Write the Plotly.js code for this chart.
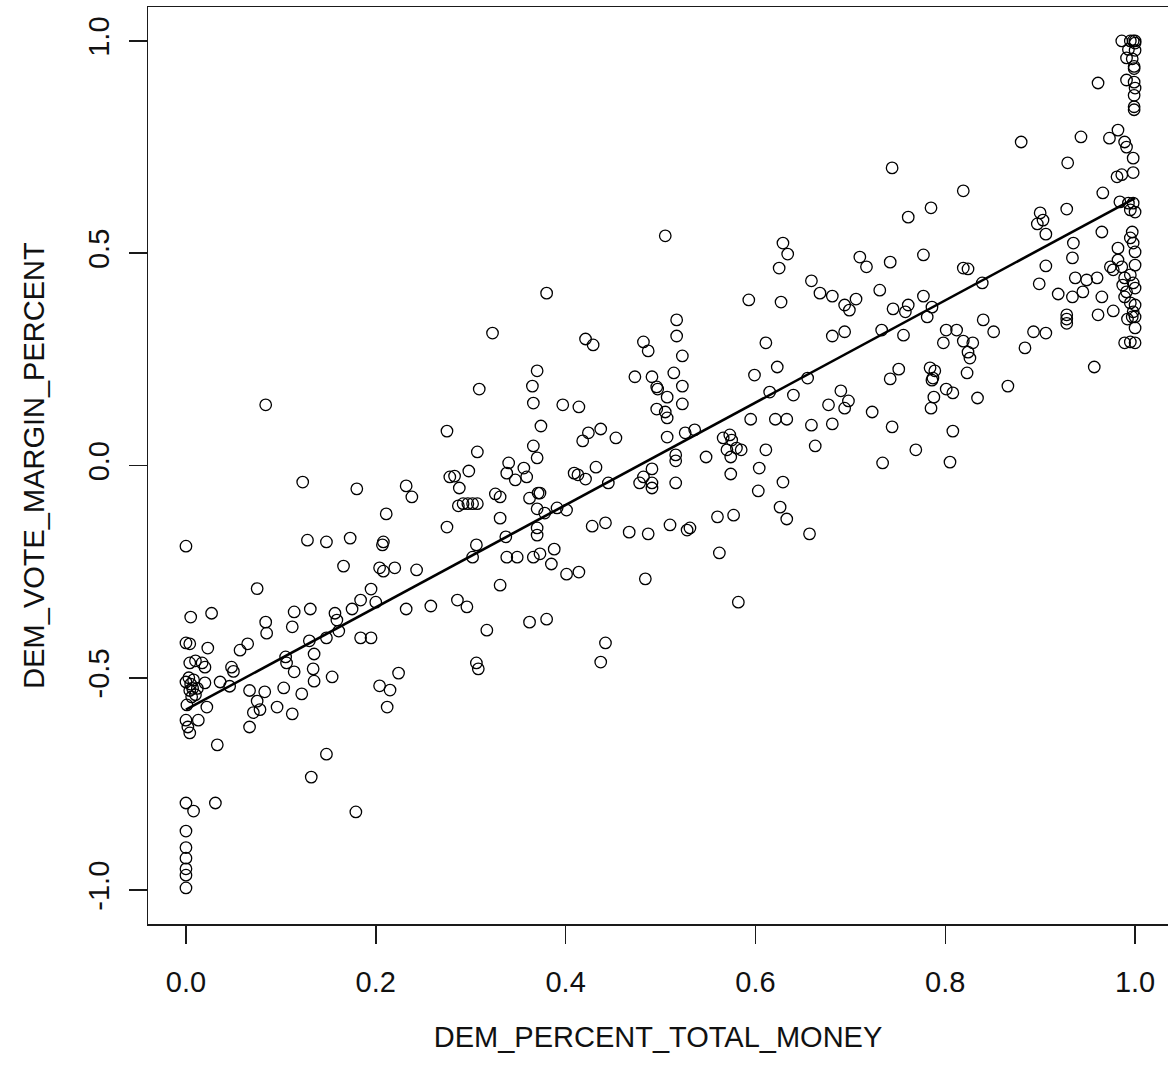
<!DOCTYPE html>
<html>
<head>
<meta charset="utf-8">
<script src="https://cdn.plot.ly/plotly-3.0.1.min.js"></script>
<style>html,body{margin:0;padding:0;background:#fff;}#chart{width:1168px;height:1076px;}</style>
</head>
<body>
<div id="chart"></div>
<script>
// DEM_PERCENT_TOTAL_MONEY values
var demPercentMoney = [
  // near zero
  0.000,0.005,0.027,0.075,0.084,0.084,0.085,0.000,0.004,0.023,0.004,0.017,0.020,0.000,0.005,0.004,0.010,0.007,0.020,0.036,
  0.046,0.048,0.050,0.057,0.065,0.001,0.022,0.000,0.013,0.002,0.004,0.033,0.067,0.083,0.075,0.078,0.071,0.067,0.000,0.008,
  0.031,0.000,0.000,0.000,0.000,0.000,0.000,
  0.003,0.008,0.012,0.006,0.010,
  // 0.1 - 0.28
  0.275,0.275,0.123,0.180,0.232,0.238,0.211,0.128,0.148,0.173,0.208,0.207,0.166,0.204,0.208,0.220,0.243,0.195,0.184,0.200,
  0.175,0.157,0.131,0.114,0.112,0.232,0.258,0.159,0.161,0.148,0.130,0.184,0.195,0.105,0.106,0.135,0.114,0.134,0.135,0.154,
  0.103,0.122,0.096,0.112,0.204,0.215,0.224,0.212,0.148,0.132,0.179,
  // 0.28 - 0.46
  0.380,0.323,0.421,0.429,0.370,0.365,0.366,0.309,0.397,0.414,
  0.374,0.437,0.424,0.418,0.453,0.307,0.366,0.370,0.340,0.356,
  0.338,0.347,0.359,0.298,0.278,0.283,0.288,0.432,0.409,0.413,
  0.421,0.445,0.326,0.331,0.362,0.371,0.373,0.287,0.292,0.297,
  0.302,0.307,0.370,0.378,0.391,0.401,0.331,0.370,0.370,0.428,
  0.442,0.337,0.306,0.302,0.338,0.349,0.366,0.373,0.388,0.385,
  0.401,0.414,0.331,0.286,0.296,0.317,0.362,0.380,0.306,0.308,
  0.442,0.437,
  // 0.46 - 0.66
  0.505,0.629,0.634,0.625,0.593,0.627,0.517,0.517,0.482,0.487,
  0.523,0.611,0.623,0.599,0.473,0.491,0.496,0.497,0.514,0.523,
  0.507,0.523,0.615,0.640,0.496,0.505,0.507,0.595,0.621,0.633,
  0.507,0.526,0.536,0.566,0.573,0.575,0.570,0.580,0.585,0.574,
  0.516,0.516,0.548,0.611,0.604,0.629,0.603,0.491,0.482,0.478,
  0.491,0.491,0.516,0.574,0.626,0.633,0.560,0.577,0.467,0.487,
  0.510,0.528,0.531,0.562,0.657,0.484,0.582,
  // 0.65 - 0.84
  0.744,0.819,0.785,0.761,0.710,0.717,0.742,0.777,0.819,0.824,
  0.659,0.668,0.681,0.731,0.706,0.694,0.699,0.777,0.745,0.761,
  0.758,0.786,0.781,0.681,0.694,0.733,0.756,0.801,0.812,0.798,
  0.819,0.829,0.824,0.826,0.655,0.742,0.751,0.784,0.789,0.786,
  0.787,0.823,0.801,0.808,0.788,0.785,0.834,0.690,0.698,0.694,
  0.677,0.723,0.659,0.681,0.744,0.808,0.663,0.769,0.734,0.805,
  // 0.84 - 0.93
  0.880,0.929,0.900,0.897,0.903,0.906,0.928,0.839,0.906,0.899,
  0.919,0.928,0.928,0.928,0.840,0.851,0.893,0.906,0.884,0.866,
  // near one, upper
  0.986,0.995,0.998,1.000,1.000,0.993,1.000,0.991,0.997,0.999,
  0.999,0.991,0.999,1.000,0.999,0.999,0.999,0.961,0.982,0.943,
  0.973,0.989,0.991,0.998,0.981,0.986,0.998,0.966,
  // near one, lower
  0.984,0.993,0.998,0.995,1.000,0.965,0.997,0.995,0.998,0.935,
  0.934,0.982,1.000,0.982,0.974,0.977,0.986,1.000,0.995,0.989,
  0.937,0.949,0.960,0.987,1.000,0.991,0.945,0.934,0.965,0.989,
  0.995,1.000,0.998,0.997,0.961,0.977,1.000,0.989,1.000,0.995,
  0.957,0.998,0.992,1.000
];

// DEM_VOTE_MARGIN_PERCENT values
var demVoteMargin = [
  -0.190,-0.357,-0.348,-0.290,0.143,-0.369,-0.395,-0.418,-0.420,-0.430,-0.465,-0.465,-0.475,-0.510,-0.515,-0.530,-0.540,-0.525,-0.512,-0.510,
  -0.520,-0.475,-0.485,-0.435,-0.420,-0.564,-0.569,-0.600,-0.600,-0.616,-0.630,-0.658,-0.530,-0.533,-0.555,-0.575,-0.582,-0.616,-0.795,-0.814,
  -0.795,-0.861,-0.900,-0.925,-0.950,-0.965,-0.995,
  -0.500,-0.505,-0.525,-0.545,-0.460,

  0.081,-0.145,-0.039,-0.055,-0.048,-0.074,-0.114,-0.176,-0.180,-0.171,-0.180,-0.187,-0.237,-0.241,-0.249,-0.241,-0.246,-0.291,-0.317,-0.322,
  -0.338,-0.348,-0.338,-0.345,-0.380,-0.338,-0.331,-0.364,-0.390,-0.406,-0.413,-0.406,-0.406,-0.451,-0.465,-0.444,-0.486,-0.479,-0.508,-0.498,
  -0.524,-0.538,-0.569,-0.585,-0.519,-0.529,-0.489,-0.569,-0.680,-0.734,-0.816,

  0.406,0.312,0.298,0.284,0.223,0.187,0.147,0.180,0.143,0.138,
  0.093,0.086,0.077,0.058,0.065,0.032,0.046,0.018,0.006,-0.006,
  -0.018,-0.034,-0.027,-0.013,-0.027,-0.025,-0.053,-0.004,-0.018,-0.022,
  -0.032,-0.041,-0.067,-0.074,-0.077,-0.065,-0.065,-0.095,-0.090,-0.090,
  -0.090,-0.090,-0.102,-0.112,-0.100,-0.105,-0.124,-0.147,-0.164,-0.143,
  -0.135,-0.168,-0.187,-0.216,-0.216,-0.216,-0.216,-0.208,-0.197,-0.232,
  -0.256,-0.251,-0.282,-0.317,-0.333,-0.388,-0.369,-0.362,-0.465,-0.479,
  -0.418,-0.463,

  0.541,0.524,0.498,0.465,0.390,0.385,0.343,0.305,0.291,0.270,
  0.258,0.289,0.232,0.213,0.209,0.209,0.185,0.180,0.218,0.187,
  0.161,0.145,0.173,0.166,0.133,0.126,0.112,0.109,0.109,0.109,
  0.067,0.077,0.084,0.065,0.072,0.060,0.037,0.041,0.037,0.020,
  0.025,0.011,0.020,0.037,-0.006,-0.039,-0.060,-0.008,-0.027,-0.041,
  -0.041,-0.053,-0.041,-0.020,-0.098,-0.126,-0.121,-0.117,-0.157,-0.161,
  -0.140,-0.152,-0.147,-0.206,-0.161,-0.267,-0.322,

  0.701,0.647,0.607,0.585,0.491,0.468,0.479,0.496,0.465,0.463,
  0.435,0.406,0.399,0.413,0.392,0.378,0.366,0.399,0.369,0.378,
  0.362,0.373,0.350,0.305,0.315,0.319,0.307,0.319,0.319,0.289,
  0.293,0.289,0.267,0.253,0.206,0.204,0.227,0.230,0.223,0.201,
  0.206,0.218,0.180,0.171,0.161,0.135,0.159,0.176,0.152,0.135,
  0.143,0.126,0.095,0.098,0.091,0.081,0.046,0.037,0.006,0.008,

  0.762,0.713,0.595,0.569,0.578,0.545,0.604,0.430,0.470,0.428,
  0.404,0.355,0.345,0.335,0.343,0.315,0.315,0.312,0.277,0.187,

  1.000,1.000,1.000,1.000,0.995,0.980,0.978,0.960,0.958,0.940,
  0.935,0.908,0.903,0.889,0.872,0.845,0.838,0.901,0.790,0.774,
  0.771,0.762,0.750,0.724,0.680,0.685,0.690,0.642,

  0.621,0.618,0.618,0.602,0.597,0.550,0.550,0.536,0.524,0.524,
  0.489,0.512,0.503,0.484,0.468,0.461,0.468,0.472,0.449,0.442,
  0.442,0.437,0.442,0.425,0.418,0.409,0.409,0.397,0.397,0.397,
  0.383,0.378,0.362,0.350,0.355,0.364,0.324,0.289,0.289,0.291,
  0.232,0.430,0.345,0.350
];

// Fitted regression line end points
var fitX = [0.0, 1.0];
var fitY = [-0.575, 0.630];

// Axis ticks
var xTickVals = [0, 0.2, 0.4, 0.6, 0.8, 1.0];
var xTickLabels = ["0.0", "0.2", "0.4", "0.6", "0.8", "1.0"];
var yTickVals = [-1, -0.5, 0, 0.5, 1];
var yTickLabels = ["-1.0", "-0.5", "0.0", "0.5", "1.0"];

var xTitle = "DEM_PERCENT_TOTAL_MONEY";
var yTitle = "DEM_VOTE_MARGIN_PERCENT";

if (demPercentMoney.length !== demVoteMargin.length) {
  console.error("length mismatch", demPercentMoney.length, demVoteMargin.length);
}

var fontFam = "Liberation Sans, Arial, sans-serif";
var ink = "#1a1a1a";

var traces = [
  {
    type: "scatter", mode: "markers",
    x: demPercentMoney, y: demVoteMargin,
    marker: { symbol: "circle-open", size: 11.5, color: "#000", line: { width: 1.3, color: "#000" } },
    hoverinfo: "x+y", showlegend: false, cliponaxis: false
  },
  {
    type: "scatter", mode: "lines",
    x: fitX, y: fitY,
    line: { color: "#000", width: 2.6 },
    showlegend: false
  }
];

var axisCommon = {
  ticks: "outside", ticklen: 18, tickwidth: 1.5, tickcolor: ink,
  showline: true, linecolor: ink, linewidth: 1.5,
  showgrid: false, zeroline: false, automargin: false,
  tickfont: { family: fontFam, size: 29, color: "#111" }
};

var layout = {
  width: 1168, height: 1076,
  margin: { l: 148, r: 0, t: 7, b: 152, pad: 0 },
  paper_bgcolor: "#fff", plot_bgcolor: "#fff",
  font: { family: fontFam, size: 29, color: "#111" },
  showlegend: false,
  xaxis: Object.assign({}, axisCommon, {
    range: [-0.04, 1.0347],
    tickmode: "array", tickvals: xTickVals, ticktext: xTickLabels,
    mirror: true, ticklabelstandoff: 14,
    title: { text: xTitle, font: { family: fontFam, size: 29, color: "#111" }, standoff: 29 }
  }),
  yaxis: Object.assign({}, axisCommon, {
    range: [-1.08, 1.08],
    tickmode: "array", tickvals: yTickVals, ticktext: yTickLabels,
    tickangle: -90, mirror: false, ticklabelstandoff: 8,
    title: { text: yTitle, font: { family: fontFam, size: 29, color: "#111" }, standoff: 30 }
  })
};

Plotly.newPlot("chart", traces, layout, { staticPlot: true, displayModeBar: false });
</script>
</body>
</html>
